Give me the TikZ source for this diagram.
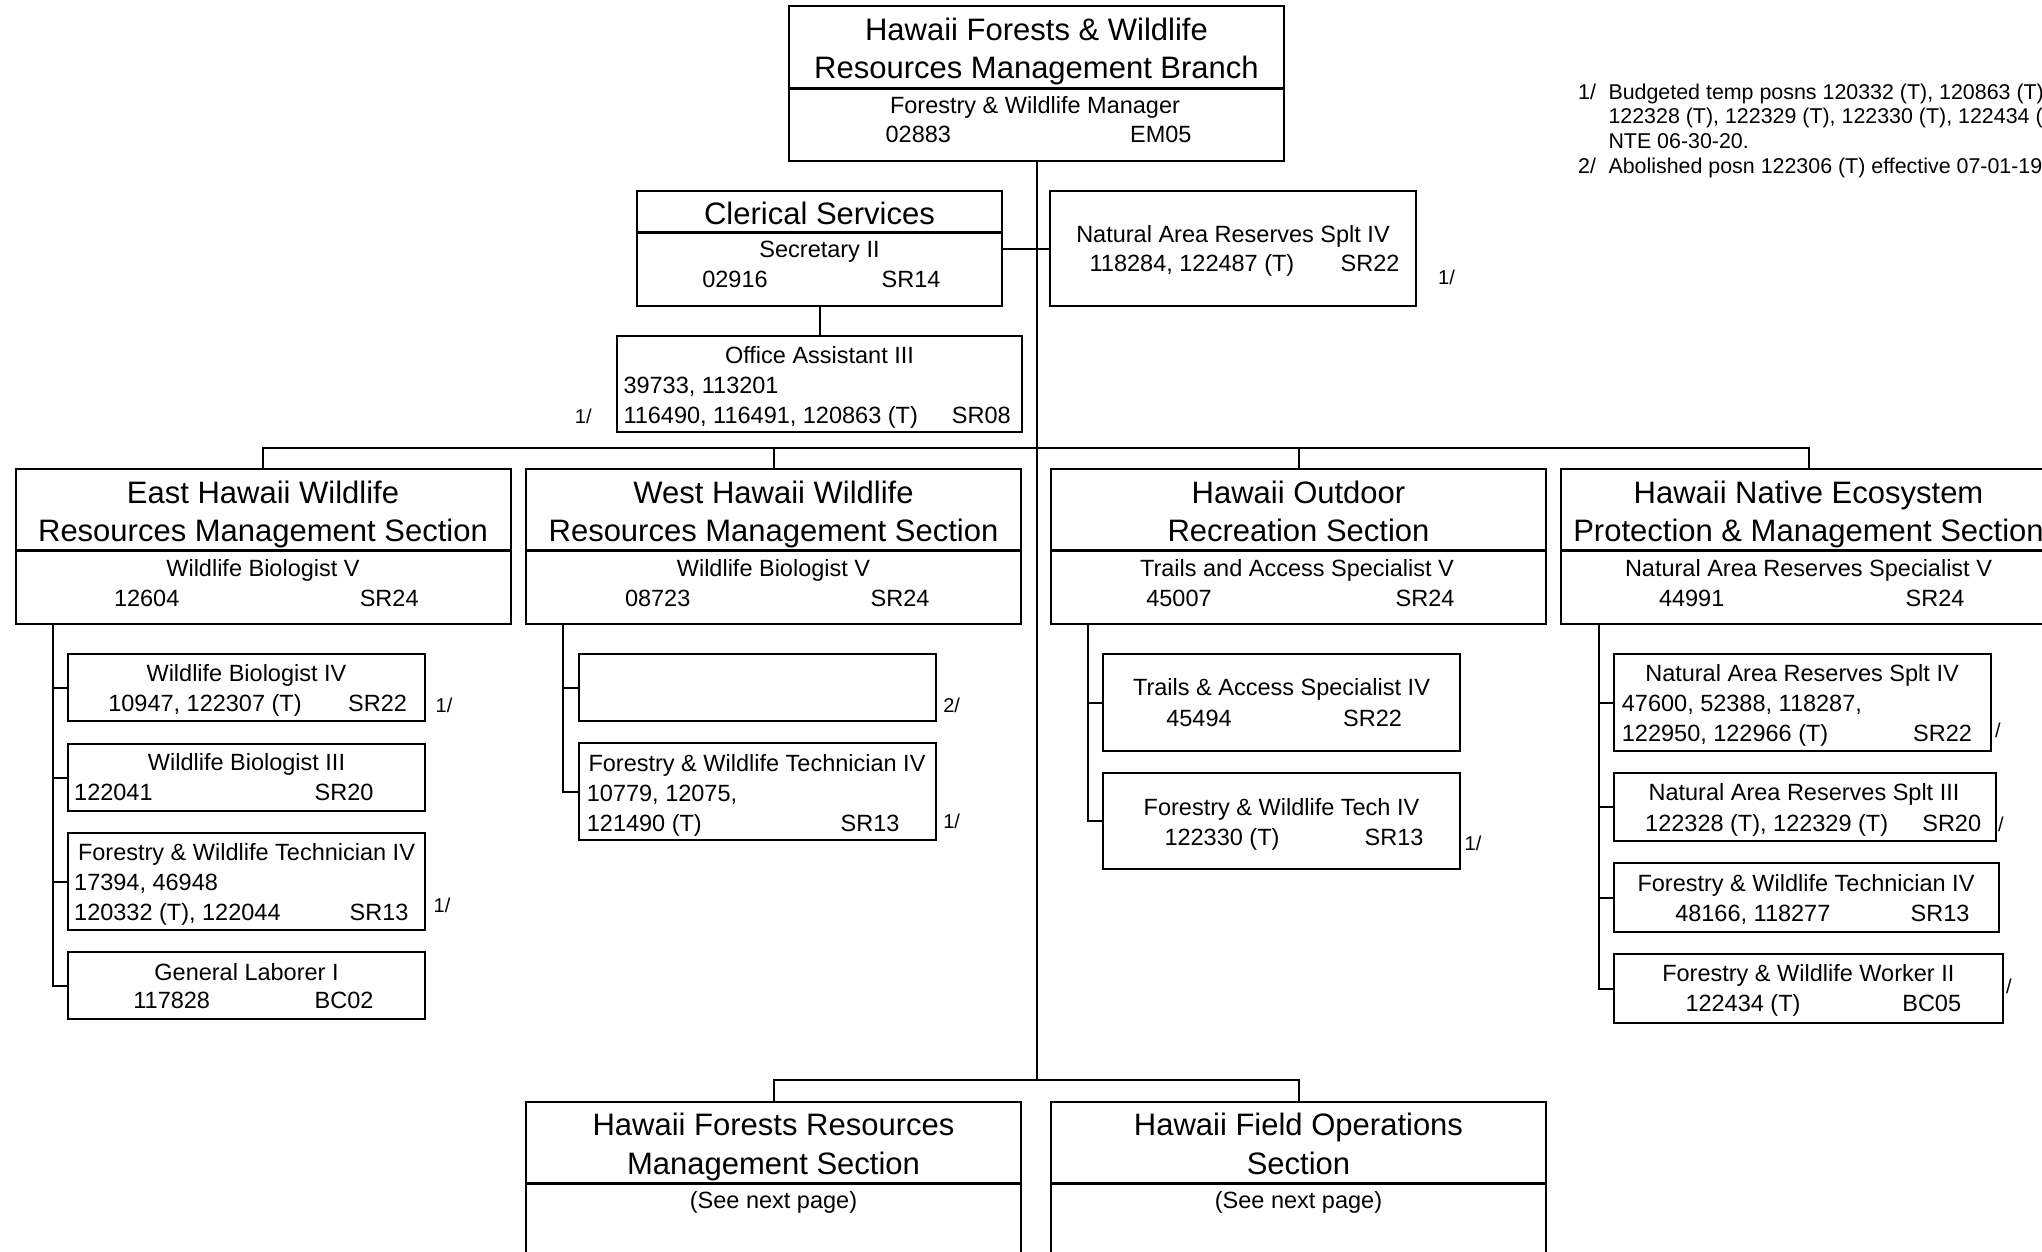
\documentclass[tikz,border=0pt]{standalone}
\usepackage{fontspec}
\setmainfont{Liberation Sans}
\begin{document}
\begin{tikzpicture}[x=1pt,y=-1pt,
  box/.style={draw, line width=2pt, inner sep=0pt, rectangle},
  divl/.style={line width=3pt},
  link/.style={line width=2pt},
  ttl/.style={font=\fontsize{31}{37}\selectfont, inner sep=0pt, text height=22.2pt, text depth=0pt},
  bt/.style={font=\fontsize{23.5}{30}\selectfont, inner sep=0pt, text height=16.8pt, text depth=0pt},
  fn/.style={font=\fontsize{20}{24}\selectfont, inner sep=0pt, text height=14.3pt, text depth=0pt},
  nt/.style={font=\fontsize{21.4}{25}\selectfont, inner sep=0pt, text height=15.3pt, text depth=0pt, anchor=west}]
\useasboundingbox (0,0) rectangle (2042,1251);
\clip (0,0) rectangle (2042,1251);

% ---------- top box ----------
\node[box, minimum width=495pt, minimum height=155pt] (top) at (1036.5,83.5) {};
\draw[divl] ([yshift=-83pt]top.north west) -- ([yshift=-83pt]top.north east);
\node[ttl] (topA) at (1036.5,29) {Hawaii Forests \& Wildlife};
\node[ttl] (topB) at (1036.5,67) {Resources Management Branch};
\node[bt] (topC) at (1035,105) {Forestry \& Wildlife Manager};
\node[bt] (topD) at (918.3,134.5) {02883};
\node[bt] (topE) at (1160.8,134.5) {EM05};

% ---------- notes ----------
\node[nt] (nA1) at (1578,91.5) {1/};
\node[nt] (nA2) at (1608.3,91.5) {Budgeted temp posns 120332 (T), 120863 (T),};
\node[nt] (nA3) at (1608.3,116.2) {122328 (T), 122329 (T), 122330 (T), 122434 (T)};
\node[nt] (nA4) at (1608.3,140.9) {NTE 06-30-20.};
\node[nt] (nB1) at (1578,165.6) {2/};
\node[nt] (nB2) at (1608.3,165.6) {Abolished posn 122306 (T) effective 07-01-19};

% ---------- clerical ----------
\node[box, minimum width=365pt, minimum height=115pt] (cler) at (819.5,248.5) {};
\draw[divl] ([yshift=-42.5pt]cler.north west) -- ([yshift=-42.5pt]cler.north east);
\node[ttl] (clA) at (819.5,213) {Clerical Services};
\node[bt] (clB) at (819.5,249.5) {Secretary II};
\node[bt] (clC) at (735,279) {02916};
\node[bt] (clD) at (911,279) {SR14};

% ---------- NAR splt IV ----------
\node[box, minimum width=366pt, minimum height=115pt] (nar) at (1233,248.5) {};
\node[bt] (naA) at (1233,234) {Natural Area Reserves Splt IV};
\node[bt] (naB) at (1192,263.5) {118284, 122487 (T)};
\node[bt] (naC) at (1370,263.5) {SR22};
\node[fn] (naF) at (1446.5,277) {1/};

% ---------- office assistant ----------
\node[box, minimum width=405pt, minimum height=96pt] (oa) at (819.5,384) {};
\node[bt] (oaA) at (819.5,355) {Office Assistant III};
\node[bt, anchor=west] (oaB) at (623.3,385) {39733, 113201};
\node[bt, anchor=west] (oaC) at (623.3,415) {116490, 116491, 120863 (T)};
\node[bt] (oaD) at (981.3,415) {SR08};
\node[fn] (oaF) at (583.3,416.7) {1/};

% ---------- sections ----------
\node[box, minimum width=495pt, minimum height=155pt] (east) at (263,546.5) {};
\node[box, minimum width=495pt, minimum height=155pt] (west) at (773.5,546.5) {};
\node[box, minimum width=495pt, minimum height=155pt] (outd) at (1298.5,546.5) {};
\node[box, minimum width=495pt, minimum height=155pt] (nat) at (1808.5,546.5) {};
\foreach \b in {east,west,outd,nat}
  \draw[divl] ([yshift=-82pt]\b.north west) -- ([yshift=-82pt]\b.north east);

\node[ttl] (eaA) at (263,492) {East Hawaii Wildlife};
\node[ttl] (eaB) at (263,530.5) {Resources Management Section};
\node[bt] (eaC) at (263,568) {Wildlife Biologist V};
\node[bt] (eaD) at (146.7,598) {12604};
\node[bt] (eaE) at (389.2,598) {SR24};

\node[ttl] (weA) at (773.5,492) {West Hawaii Wildlife};
\node[ttl] (weB) at (773.5,530.5) {Resources Management Section};
\node[bt] (weC) at (773.5,568) {Wildlife Biologist V};
\node[bt] (weD) at (657.7,598) {08723};
\node[bt] (weE) at (900,598) {SR24};

\node[ttl] (ouA) at (1298.5,492) {Hawaii Outdoor};
\node[ttl] (ouB) at (1298.5,530.5) {Recreation Section};
\node[bt] (ouC) at (1297,568) {Trails and Access Specialist V};
\node[bt] (ouD) at (1179,598) {45007};
\node[bt] (ouE) at (1425,598) {SR24};

\node[ttl] (ntA) at (1808.5,492) {Hawaii Native Ecosystem};
\node[ttl] (ntB) at (1808.5,530.5) {Protection \& Management Section};
\node[bt] (ntC) at (1808.5,568) {Natural Area Reserves Specialist V};
\node[bt] (ntD) at (1691.7,598) {44991};
\node[bt] (ntE) at (1935,598) {SR24};

% ---------- east subs ----------
\node[box, minimum width=357pt, minimum height=67pt] (e1) at (246.5,687.5) {};
\node[bt] (e1A) at (246.5,672.7) {Wildlife Biologist IV};
\node[bt] (e1B) at (205,702.7) {10947, 122307 (T)};
\node[bt] (e1C) at (377.5,702.7) {SR22};
\node[fn] (e1F) at (444,705) {1/};

\node[box, minimum width=357pt, minimum height=67pt] (e2) at (246.5,777.5) {};
\node[bt] (e2A) at (246.5,761.7) {Wildlife Biologist III};
\node[bt, anchor=west] (e2B) at (74,791.7) {122041};
\node[bt] (e2C) at (344,791.7) {SR20};

\node[box, minimum width=357pt, minimum height=97pt] (e3) at (246.5,881.5) {};
\node[bt] (e3A) at (246.5,851.7) {Forestry \& Wildlife Technician IV};
\node[bt, anchor=west] (e3B) at (74,881.7) {17394, 46948};
\node[bt, anchor=west] (e3C) at (74,911.7) {120332 (T), 122044};
\node[bt] (e3D) at (379,911.7) {SR13};
\node[fn] (e3F) at (442,905) {1/};

\node[box, minimum width=357pt, minimum height=67pt] (e4) at (246.5,985.5) {};
\node[bt] (e4A) at (246.5,971.7) {General Laborer I};
\node[bt] (e4B) at (171.7,1000) {117828};
\node[bt] (e4C) at (344,1000) {BC02};

% ---------- west subs ----------
\node[box, minimum width=357pt, minimum height=67pt] (w1) at (757.5,687.5) {};
\node[fn] (w1F) at (951.7,705) {2/};

\node[box, minimum width=357pt, minimum height=97pt] (w2) at (757.5,791.5) {};
\node[bt] (w2A) at (757,763.3) {Forestry \& Wildlife Technician IV};
\node[bt, anchor=west] (w2B) at (586.7,793.3) {10779, 12075,};
\node[bt, anchor=west] (w2C) at (586.7,823.3) {121490 (T)};
\node[bt] (w2D) at (870,823.3) {SR13};
\node[fn] (w2F) at (951.7,821.7) {1/};

% ---------- outdoor subs ----------
\node[box, minimum width=357pt, minimum height=97pt] (o1) at (1281.5,702.5) {};
\node[bt] (o1A) at (1281.5,687.3) {Trails \& Access Specialist IV};
\node[bt] (o1B) at (1199,718.3) {45494};
\node[bt] (o1C) at (1372.5,718.3) {SR22};

\node[box, minimum width=357pt, minimum height=96pt] (o2) at (1281.5,821) {};
\node[bt] (o2A) at (1281.5,807.3) {Forestry \& Wildlife Tech IV};
\node[bt] (o2B) at (1222,837.3) {122330 (T)};
\node[bt] (o2C) at (1394,837.3) {SR13};
\node[fn] (o2F) at (1473,843.3) {1/};

% ---------- native subs ----------
\node[box, minimum width=377pt, minimum height=97pt] (n1) at (1802.5,702.5) {};
\node[bt] (n1A) at (1802,673.3) {Natural Area Reserves Splt IV};
\node[bt, anchor=west] (n1B) at (1621.7,703) {47600, 52388, 118287,};
\node[bt, anchor=west] (n1C) at (1621.7,733.3) {122950, 122966 (T)};
\node[bt] (n1D) at (1942.5,733.3) {SR22};
\node[fn] (n1F) at (1998,730) {/};

\node[box, minimum width=382pt, minimum height=68pt] (n2) at (1805,807) {};
\node[bt] (n2A) at (1804,791.7) {Natural Area Reserves Splt III};
\node[bt] (n2B) at (1766.7,822.7) {122328 (T), 122329 (T)};
\node[bt] (n2C) at (1951.7,822.7) {SR20};
\node[fn] (n2F) at (2001,824) {/};

\node[box, minimum width=385pt, minimum height=69pt] (n3) at (1806.5,897.5) {};
\node[bt] (n3A) at (1806,883.3) {Forestry \& Wildlife Technician IV};
\node[bt] (n3B) at (1752.8,912.7) {48166, 118277};
\node[bt] (n3C) at (1940,912.7) {SR13};

\node[box, minimum width=389pt, minimum height=69pt] (n4) at (1808.5,988.5) {};
\node[bt] (n4A) at (1808.3,973.3) {Forestry \& Wildlife Worker II};
\node[bt] (n4B) at (1743,1003.3) {122434 (T)};
\node[bt] (n4C) at (1931.7,1003.3) {BC05};
\node[fn] (n4F) at (2009,986.7) {/};

% ---------- bottom sections ----------
\node[box, minimum width=495pt, minimum height=198pt] (hf) at (773.5,1201) {};
\node[box, minimum width=495pt, minimum height=198pt] (hfo) at (1298.5,1201) {};
\foreach \b in {hf,hfo}
  \draw[divl] ([yshift=-82pt]\b.north west) -- ([yshift=-82pt]\b.north east);
\node[ttl] (hfA) at (773.5,1124) {Hawaii Forests Resources};
\node[ttl] (hfB) at (773.5,1163) {Management Section};
\node[bt] (hfC) at (773.5,1200) {(See next page)};
\node[ttl] (hoA) at (1298.5,1124) {Hawaii Field Operations};
\node[ttl] (hoB) at (1298.5,1163) {Section};
\node[bt] (hoC) at (1298.5,1200) {(See next page)};

% ---------- connectors ----------
\coordinate (bus1) at (1036,447.5);
\coordinate (bus2) at (1036,1079.6);
\draw[link] (top.south) -- (top.south |- bus2);
\draw[link] (cler.east) -- (nar.west);
\draw[link] (cler.south) -- (oa.north);
\draw[link] (east.north) |- (bus1) -| (nat.north);
\draw[link] (west.north) -- (west.north |- bus1);
\draw[link] (outd.north) -- (outd.north |- bus1);
\draw[link] (hf.north) |- (bus2) -| (hfo.north);

\coordinate (es) at ([xshift=38pt]east.south west);
\draw[link] (es) |- (e4.west);
\foreach \s in {e1,e2,e3} \draw[link] (es |- \s.west) -- (\s.west);

\coordinate (ws) at ([xshift=38pt]west.south west);
\draw[link] (ws) |- (w2.west);
\draw[link] (ws |- w1.west) -- (w1.west);

\coordinate (os) at ([xshift=38pt]outd.south west);
\draw[link] (os) |- (o2.west);
\draw[link] (os |- o1.west) -- (o1.west);

\coordinate (ns) at ([xshift=39pt]nat.south west);
\draw[link] (ns) |- (n4.west);
\foreach \s in {n1,n2,n3} \draw[link] (ns |- \s.west) -- (\s.west);
\end{tikzpicture}
\end{document}
